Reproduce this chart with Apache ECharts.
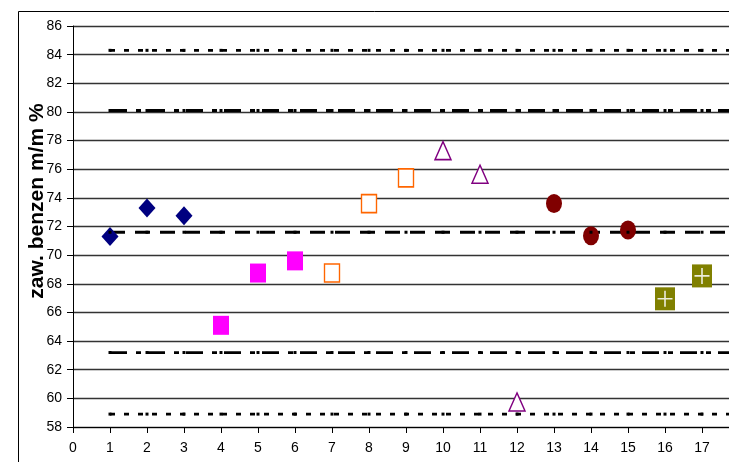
<!DOCTYPE html>
<html>
<head>
<meta charset="utf-8">
<script src="https://cdn.jsdelivr.net/npm/echarts@6/dist/echarts.min.js"></script>
<style>html,body{margin:0;padding:0;background:#fff}#c{width:729px;height:462px}</style>
</head>
<body>
<div id="c"></div>
<script>
// ---- data ----
var xTicksMax = 18;            // x axis 0..18 (18 falls outside the window)
var yMin = 58, yMax = 86, yStep = 2;

var diamondX = [1, 2, 3];
var diamondY = [71.3, 73.3, 72.75];
var magentaX = [4, 5, 6];
var magentaY = [65.1, 68.75, 69.6];
var orangeX = [7, 8, 9];
var orangeY = [68.75, 73.6, 75.4];
var triangleX = [10, 11, 12];
var triangleY = [77.3, 75.65, 59.75];
var circleX = [13, 14, 15];
var circleY = [73.6, 71.35, 71.75];
var oliveX = [16, 17];
var oliveY = [66.95, 68.55];

// reference (control) lines
var refX = [1, 2, 3, 4, 5, 6, 7, 8, 9, 10, 11, 12, 13, 14, 15, 16, 17, 18];
var refLevels = [84.3, 80.1, 71.6, 63.2, 58.9];
var refKinds  = ['dot', 'dashdot', 'dash', 'dashdot', 'dot'];

function pts(xs, ys) { return xs.map(function (x, i) { return [x, ys[i]]; }); }

var dashTypes = {
  dot: [5, 9],
  dashdot: [17, 9, 5, 7],
  dash: [15, 10]
};

var series = [];

refLevels.forEach(function (lv, k) {
  var d = refX.map(function (x) { return [x, lv]; });
  series.push({
    type: 'line', data: d, showSymbol: false, z: 1, silent: true,
    lineStyle: { color: '#000', width: 2.8, type: dashTypes[refKinds[k]] }
  });
  series.push({
    type: 'scatter', data: d, symbol: 'rect', symbolSize: 3, z: 6, silent: true,
    itemStyle: { color: '#000', opacity: 1 }
  });
});

series.push({
  type: 'scatter', data: pts(diamondX, diamondY), symbol: 'diamond', symbolSize: [17, 19], z: 3,
  itemStyle: { color: '#000080', opacity: 1 }
});
series.push({
  type: 'scatter', data: pts(magentaX, magentaY), symbol: 'rect', symbolSize: [16, 19], z: 3,
  itemStyle: { color: '#FF00FF', opacity: 1 }
});
series.push({
  type: 'scatter', data: pts(orangeX, orangeY), symbol: 'rect', symbolSize: [15, 18], z: 3,
  itemStyle: { color: '#fff', borderColor: '#FF6600', borderWidth: 1.5, opacity: 1 }
});
series.push({
  type: 'scatter', data: pts(triangleX, triangleY), symbol: 'triangle', symbolSize: [16, 18], z: 3,
  itemStyle: { color: '#fff', borderColor: '#800080', borderWidth: 1.5, opacity: 1 }
});
series.push({
  type: 'scatter', data: pts(circleX, circleY), symbol: 'circle', symbolSize: [16, 19], z: 3,
  itemStyle: { color: '#800000', opacity: 1 }
});
series.push({
  type: 'scatter', data: pts(oliveX, oliveY), symbol: 'rect', symbolSize: [20, 23], z: 3,
  itemStyle: { color: '#808000', opacity: 1 }
});
series.push({
  type: 'scatter', data: pts(oliveX, oliveY),
  symbol: 'path://M0,7.2h15v1.6h-15z M6.7,0h1.6v16h-1.6z', symbolSize: [15, 16], z: 4,
  itemStyle: { color: '#ECECDC', opacity: 1 }
});

var chart = echarts.init(document.getElementById('c'), null, { renderer: 'canvas' });
chart.setOption({
  animation: false,
  backgroundColor: '#fff',
  textStyle: { fontFamily: 'Liberation Sans, Arial, sans-serif' },
  graphic: [{
    type: 'rect', z: 0, silent: true,
    shape: { x: 18.5, y: 11.5, width: 740, height: 480 },
    style: { fill: 'none', stroke: '#000', lineWidth: 1 }
  }, {
    type: 'text', z: 10, silent: true,
    x: 37, y: 201, rotation: Math.PI / 2,
    style: {
      text: 'zaw. benzen m/m %', fill: '#000',
      font: 'bold 21px "Liberation Sans", Arial, sans-serif',
      align: 'center', verticalAlign: 'middle'
    },
    originX: 0, originY: 0
  }],
  grid: { left: 73, top: 26, width: 666, height: 401, containLabel: false, outerBoundsMode: 'none' },
  xAxis: {
    type: 'value', min: 0, max: xTicksMax, interval: 1,
    axisLine: { show: true, onZero: false, lineStyle: { color: '#000', width: 1 } },
    axisTick: { show: true, length: 6, inside: false, lineStyle: { color: '#000' } },
    axisLabel: { color: '#000', fontSize: 14, margin: 14, fontFamily: 'Liberation Sans, Arial, sans-serif',
      formatter: function (v) { return v >= xTicksMax ? '' : String(v); } },
    splitLine: { show: false }
  },
  yAxis: {
    type: 'value', min: yMin, max: yMax, interval: yStep,
    axisLine: { show: true, lineStyle: { color: '#000', width: 1 } },
    axisTick: { show: true, length: 6, lineStyle: { color: '#000' } },
    axisLabel: { color: '#000', fontSize: 14, margin: 11, fontFamily: 'Liberation Sans, Arial, sans-serif' },
    splitLine: { show: true, lineStyle: { color: '#333', width: 1.3 } }
  },
  series: series
});
</script>
</body>
</html>
